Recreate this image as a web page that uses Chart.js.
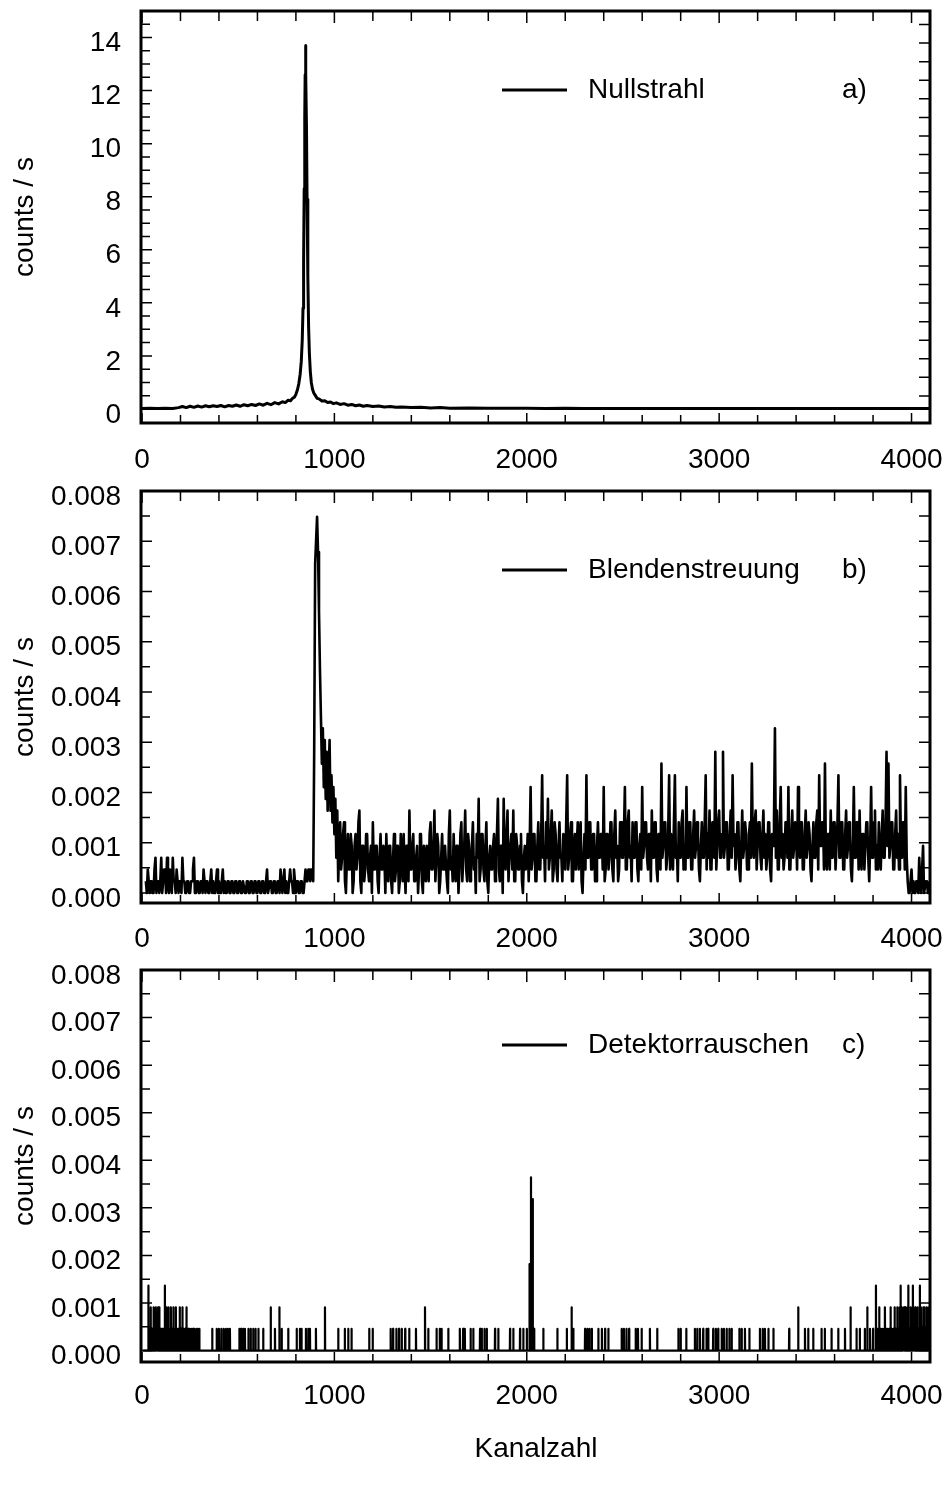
<!DOCTYPE html>
<html>
<head>
<meta charset="utf-8">
<title>Nullstrahl / Blendenstreuung / Detektorrauschen</title>
<script src="https://cdn.jsdelivr.net/npm/chart.js@4.4.1/dist/chart.umd.min.js"></script>
<style>
  html, body { margin: 0; padding: 0; background: #fff; }
  #page { position: relative; width: 948px; height: 1490px; overflow: hidden; }
  canvas { position: absolute; left: 0; }
</style>
</head>
<body>
<div id="page">
  <canvas id="chartA" width="948" height="480" style="top:0px"></canvas>
  <canvas id="chartB" width="948" height="480" style="top:480px"></canvas>
  <canvas id="chartC" width="948" height="530" style="top:960px"></canvas>
</div>
<script>
// ---- axis ticks ----
const xTickValues = [0, 200, 400, 600, 800, 1000, 1200, 1400, 1600, 1800, 2000,
  2200, 2400, 2600, 2800, 3000, 3200, 3400, 3600, 3800, 4000];
const xMajorTicks = [0, 1000, 2000, 3000, 4000];
const yMajorA = [0, 2, 4, 6, 8, 10, 12, 14];
const yMajorBC = [0, 0.001, 0.002, 0.003, 0.004, 0.005, 0.006, 0.007, 0.008];

// ---- a) Nullstrahl: channel / counts per second ----
const channelsA = [0, 40, 80, 120, 160, 190, 210, 230, 250, 270, 290, 310, 330, 350, 370, 390,
  410, 430, 450, 470, 490, 510, 530, 550, 570, 590, 610, 630, 650, 670, 690, 710, 730, 745,
  760, 772, 782, 792, 800, 808, 815, 822, 828, 833, 837, 840, 843, 846, 848, 850, 852, 855,
  858, 862, 866, 870, 875, 880, 886, 893, 900, 910, 920, 935, 950, 965, 980, 995, 1010,
  1030, 1050, 1070, 1090, 1110, 1130, 1150, 1170, 1200, 1230, 1260, 1290, 1320, 1350, 1400,
  1450, 1500, 1550, 1600, 1700, 1800, 1900, 2000, 2100, 2200, 2300, 2500, 2800, 3100, 3400,
  3700, 4000, 4095];
const countsA = [0.02, 0.03, 0.02, 0.03, 0.02, 0.05, 0.09, 0.05, 0.10, 0.06, 0.11, 0.07, 0.12, 0.08, 0.12, 0.09,
  0.13, 0.08, 0.13, 0.10, 0.15, 0.10, 0.16, 0.12, 0.17, 0.13, 0.19, 0.14, 0.21, 0.16, 0.24, 0.19, 0.27, 0.24,
  0.33, 0.31, 0.40, 0.44, 0.55, 0.72, 0.95, 1.3, 1.8, 2.6, 3.8, 5.5, 8.3, 11.0, 12.6, 13.7, 12.6, 10.6,
  7.9, 5.0, 3.1, 2.1, 1.4, 1.0, 0.75, 0.6, 0.52, 0.40, 0.38, 0.30, 0.31, 0.24, 0.26, 0.20, 0.23,
  0.17, 0.20, 0.14, 0.17, 0.12, 0.15, 0.10, 0.13, 0.09, 0.11, 0.07, 0.09, 0.06, 0.07, 0.05,
  0.06, 0.04, 0.05, 0.03, 0.04, 0.03, 0.03, 0.03, 0.02, 0.03, 0.02, 0.02, 0.02, 0.02, 0.02,
  0.02, 0.02, 0.02];

// ---- b) Blendenstreuung: registered counts every 5 channels from channel 20 ----
const firstChannelB = 20;
const channelStepB = 5;
const countRateB = 0.000234; // counts/s for one registered count
const levelsB = [
  1,0,2,1,0,1,1,0,0,2,3,0,1,1,0,1,3,0,1,2,2,0,3,1,0,2,1,0,3,1,1,0,2,1,0,1,1,0,3,1,
  1,0,0,1,1,0,0,1,1,2,3,0,0,1,1,0,0,1,1,0,2,1,0,1,1,0,0,1,2,0,1,0,0,1,2,0,1,0,0,1,
  2,0,1,0,0,1,1,0,0,1,1,0,0,1,1,0,0,1,1,0,0,1,1,0,0,1,1,0,0,1,1,0,0,1,1,0,0,1,1,0,
  0,1,1,0,0,1,2,0,0,1,1,0,0,1,1,0,0,1,1,0,2,1,0,1,2,0,1,0,0,1,2,1,1,0,2,1,0,1,1,0,
  0,1,1,0,0,1,2,1,1,2,2,1,2,2,1,12,28,30,32,29,24,19,15,11,14,9,13,8,12,7,10,13,7,10,6,9,5,8,3,7,
  1,4,6,2,3,5,6,1,0,3,5,2,2,5,4,0,1,4,5,2,3,6,7,1,0,4,4,1,2,5,5,2,1,3,4,0,6,2,2,4,
  4,1,0,3,5,2,2,4,3,0,5,2,1,4,4,1,0,3,5,1,2,4,4,0,1,5,3,1,5,2,0,4,4,1,7,2,2,4,5,1,
  1,3,4,0,2,5,5,1,0,4,3,1,4,2,1,5,6,2,2,4,7,1,3,5,4,0,1,3,5,2,2,4,4,1,0,5,7,2,3,1,
  5,2,1,4,4,0,2,5,6,1,3,4,7,2,1,5,4,1,2,4,6,2,3,0,5,3,8,1,2,5,5,2,1,4,6,1,0,3,4,2,
  2,4,5,1,3,5,8,2,1,4,4,0,8,3,2,5,7,1,3,4,5,2,7,1,1,5,4,2,2,4,5,1,0,3,4,2,3,5,1,4,
  9,2,3,5,5,1,1,4,6,2,2,5,10,3,4,1,6,3,8,2,3,5,7,1,2,6,5,2,1,4,6,3,3,1,5,4,2,6,10,2,
  3,5,6,1,1,4,5,2,4,6,2,5,6,1,0,3,5,2,10,3,3,6,6,2,2,5,5,1,1,4,6,3,3,5,5,2,9,1,2,5,
  5,2,3,6,6,2,1,5,7,3,4,1,2,6,6,3,3,5,9,2,2,6,7,3,4,1,6,3,3,6,6,2,1,4,5,2,9,3,4,6,
  6,3,2,5,5,1,7,3,3,6,6,2,1,5,5,2,11,3,4,6,6,2,3,5,10,2,5,3,2,6,10,3,4,1,6,3,3,6,7,2,
  4,2,9,3,3,6,6,2,2,5,7,3,4,6,5,2,1,4,6,3,3,6,10,2,5,3,7,2,2,6,6,3,12,2,4,6,7,3,3,5,
  12,3,4,6,6,2,2,5,7,3,10,4,5,2,3,6,6,2,1,4,7,3,4,6,5,2,2,5,6,3,11,4,3,6,7,2,4,6,6,3,
  2,5,7,3,5,2,3,6,6,2,1,5,4,6,14,3,7,2,2,6,9,3,5,2,3,6,6,3,9,2,2,5,7,3,4,6,5,2,9,4,
  3,6,6,2,2,5,7,3,4,6,5,2,1,4,6,3,3,6,7,2,10,4,4,6,6,2,11,3,2,5,5,2,7,3,3,6,6,2,4,6,
  10,3,3,6,6,2,2,5,7,3,4,6,5,2,1,4,9,3,3,6,6,2,7,3,2,5,5,2,4,6,6,3,1,4,9,3,3,6,7,2,
  4,2,6,3,2,5,7,3,3,6,12,4,11,3,4,6,6,2,2,5,7,3,5,2,10,4,3,6,6,2,9,3,1,0,0,1,2,0,1,0,
  0,1,1,0,3,1,0,2,4,0,0,1,1,0,0,1];

// ---- c) Detektorrauschen: channels with counts (all other channels are zero) ----
const firstChannelC = 5;
const lastChannelC = 4095;
const countRateC = 0.000455;
const spikeChannelsC = [33,38,45,52,60,66,72,78,84,90,97,104,112,119,126,131,137,144,150,157,
  163,170,176,183,190,196,203,210,217,224,231,240,248,258,266,272,283,290,298,
  365,388,400,412,424,436,446,457,506,515,526,535,553,565,578,590,605,630,669,691,
  714,726,760,804,821,829,852,864,873,904,951,
  1020,1054,1072,1089,1181,1199,1292,1305,1322,1336,1350,1368,1389,1424,1471,1488,1531,1548,1557,1592,
  1652,1669,1678,1708,1722,1757,1766,1780,1792,1835,1852,1913,1930,1965,1982,2000,
  2014,2022,2031,2038,2086,2159,2208,2233,2242,2303,2315,2326,2338,2372,2390,2407,2424,2493,2505,2518,
  2532,2566,2578,2597,2640,2678,2788,2800,2829,2874,2886,2900,2917,2934,2943,2969,2983,2995,3013,3025,
  3039,3053,3065,3105,3117,3134,3157,3212,3226,3238,3256,3282,3364,3411,3446,3463,3489,3532,3549,3584,
  3619,3654,3683,3714,3731,3757,3770,3784,3800,
  3815,3823,3832,3840,3848,3856,3862,3869,3876,3884,3891,3898,3905,3912,3919,3926,3932,3938,3943,3949,
  3955,3961,3967,3973,3978,3983,3989,3995,4001,4007,4013,4019,4025,4031,4037,4043,4049,4055,4061,4067,
  4073,4079,4085,4091];
const spikeLevelsC = [3,1,2,1,2,1,2,1,2,2,1,1,1,3,2,1,2,1,2,1,
  2,1,2,1,1,2,1,2,1,1,2,1,1,1,1,1,1,1,1,
  1,1,1,1,1,1,1,1,1,1,1,1,1,1,1,1,1,1,2,1,
  2,1,1,1,1,1,1,1,1,1,2,
  1,1,1,1,1,1,1,1,1,1,1,1,1,1,2,1,1,1,1,1,
  1,1,1,1,1,1,1,1,1,1,1,1,1,1,1,1,
  4,8,7,1,1,1,1,2,1,1,1,1,1,1,1,1,1,1,1,1,
  1,1,1,1,1,1,1,1,1,1,1,1,1,1,1,1,1,1,1,1,
  1,1,1,1,1,1,1,1,1,1,1,1,1,2,1,1,1,1,1,1,
  1,1,2,1,1,1,2,1,1,
  3,1,2,1,1,1,2,1,1,1,2,1,1,2,1,2,1,2,3,2,
  1,2,2,1,2,3,1,2,1,3,1,2,1,2,1,3,2,1,2,2,
  1,2,1,2];

// ---- build point lists ----
const pointsA = channelsA.map((ch, i) => ({x: ch, y: countsA[i]}));
const pointsB = levelsB.map((n, i) => ({x: firstChannelB + i * channelStepB, y: n * countRateB}));
const pointsC = [{x: firstChannelC, y: 0}];
spikeChannelsC.forEach((ch, i) => {
  // one-channel wide count: baseline, count, baseline
  pointsC.push({x: ch - 1, y: 0}, {x: ch, y: spikeLevelsC[i] * countRateC}, {x: ch + 1, y: 0});
});
pointsC.push({x: lastChannelC, y: 0});

// ---- tick positions ----
const yTicksA = [];
for (let k = 0; k <= 30; k++) yTicksA.push(k * 0.5);
const yTicksBC = [];
for (let k = 0; k <= 16; k++) yTicksBC.push(Number((k * 0.0005).toFixed(4)));
const rightTicksA = [];
for (let k = 0; k <= 20; k++) rightTicksA.push(Number((0.49 + 0.7 * k).toFixed(2)));

Chart.defaults.font.family = "'Liberation Sans', Arial, Helvetica, sans-serif";
Chart.defaults.font.size = 28;
Chart.defaults.color = '#000';

const isIn = (list, v) => list.some(m => Math.abs(m - v) < 1e-9);

// frame with inward tick marks on all four sides
function frameTicks(cfg) {
  return {
    id: 'frameTicks',
    afterDatasetsDraw(chart) {
      const {ctx, chartArea: a} = chart;
      const xs = chart.scales.x;
      const ys = chart.scales.y;
      ctx.save();
      ctx.strokeStyle = '#000';
      ctx.lineWidth = 1.5;
      ctx.beginPath();
      xs.ticks.forEach(t => {
        const px = xs.getPixelForValue(t.value);
        const major = isIn(xMajorTicks, t.value);
        ctx.moveTo(px, a.top);
        ctx.lineTo(px, a.top + (major ? 12 : 10));
        ctx.moveTo(px, a.bottom);
        ctx.lineTo(px, a.bottom - (major ? 10 : 8));
      });
      ys.ticks.forEach(t => {
        const py = ys.getPixelForValue(t.value);
        ctx.moveTo(a.left, py);
        ctx.lineTo(a.left + (isIn(cfg.yMajor, t.value) ? 10 : 8), py);
      });
      cfg.rightTicks.forEach(v => {
        const py = ys.getPixelForValue(v);
        ctx.moveTo(a.right, py);
        ctx.lineTo(a.right - 11, py);
      });
      ctx.stroke();
      ctx.lineWidth = 3;
      ctx.strokeRect(a.left - 1, a.top, a.right - a.left + 1, a.bottom - a.top);
      ctx.restore();
    }
  };
}

// legend sample line + label + panel tag inside the plot
function insetLegend(cfg) {
  return {
    id: 'insetLegend',
    afterDraw(chart) {
      const {ctx} = chart;
      const ds = chart.data.datasets[0];
      ctx.save();
      ctx.strokeStyle = ds.borderColor;
      ctx.lineWidth = 3;
      ctx.beginPath();
      ctx.moveTo(502, cfg.legendY);
      ctx.lineTo(567, cfg.legendY);
      ctx.stroke();
      ctx.font = "28px 'Liberation Sans', Arial, Helvetica, sans-serif";
      ctx.fillStyle = '#000';
      ctx.textAlign = 'left';
      ctx.textBaseline = 'middle';
      ctx.fillText(ds.label, 588, cfg.legendY);
      ctx.fillText(cfg.tag, 842, cfg.legendY);
      ctx.restore();
    }
  };
}

function makePanel(canvasId, cfg) {
  return new Chart(document.getElementById(canvasId), {
    type: 'line',
    data: {
      datasets: [{
        label: cfg.label,
        data: cfg.points,
        borderColor: '#000',
        borderWidth: cfg.lineWidth,
        borderJoinStyle: 'round',
        pointRadius: 0,
        tension: 0,
        fill: false,
      }],
    },
    options: {
      responsive: false,
      animation: false,
      devicePixelRatio: 1,
      events: [],
      layout: {padding: {top: cfg.top, right: 18, bottom: 0, left: 0}},
      plugins: {legend: {display: false}, tooltip: {enabled: false}},
      scales: {
        x: {
          type: 'linear',
          min: 0,
          max: 4096,
          grid: {display: false, drawTicks: false},
          border: {display: false},
          afterBuildTicks: s => { s.ticks = xTickValues.map(v => ({value: v})); },
          afterFit: s => { s.height = cfg.xHeight; s.paddingLeft = 0; s.paddingRight = 0; },
          ticks: {
            autoSkip: false, maxRotation: 0, minRotation: 0, padding: cfg.xPad,
            callback: v => isIn(xMajorTicks, v) ? String(v) : '',
          },
          title: cfg.xTitle
            ? {display: true, text: cfg.xTitle, padding: {top: 0, bottom: 24}}
            : {display: false},
        },
        y: {
          type: 'linear',
          min: cfg.yMin,
          max: cfg.yMax,
          grid: {display: false, drawTicks: false},
          border: {display: false},
          afterBuildTicks: s => { s.ticks = cfg.yTicks.map(v => ({value: v})); },
          afterFit: s => { s.width = 142; s.paddingTop = 0; s.paddingBottom = 0; },
          ticks: {
            autoSkip: false, padding: 21, labelOffset: 6,
            callback: v => isIn(cfg.yMajor, v) ? cfg.fmt(v) : '',
          },
          title: {display: true, text: 'counts / s', padding: {top: 8, bottom: 0}},
        },
      },
    },
    plugins: [frameTicks(cfg), insetLegend(cfg)],
  });
}

makePanel('chartA', {
  label: 'Nullstrahl', tag: 'a)', points: pointsA, lineWidth: 3,
  top: 11, xHeight: 57, xPad: 20, legendY: 90,
  yMin: -0.53, yMax: 15, yTicks: yTicksA, yMajor: yMajorA, rightTicks: rightTicksA,
  fmt: v => String(v),
});

makePanel('chartB', {
  label: 'Blendenstreuung', tag: 'b)', points: pointsB, lineWidth: 2.6,
  top: 11, xHeight: 57, xPad: 19, legendY: 90,
  yMin: -0.0002, yMax: 0.008, yTicks: yTicksBC, yMajor: yMajorBC, rightTicks: yTicksBC,
  fmt: v => v.toFixed(3),
});

makePanel('chartC', {
  label: 'Detektorrauschen', tag: 'c)', points: pointsC, lineWidth: 2.2,
  top: 10, xHeight: 128, xPad: 17, legendY: 85, xTitle: 'Kanalzahl',
  yMin: -0.00024, yMax: 0.008, yTicks: yTicksBC, yMajor: yMajorBC, rightTicks: yTicksBC,
  fmt: v => v.toFixed(3),
});
</script>
</body>
</html>
